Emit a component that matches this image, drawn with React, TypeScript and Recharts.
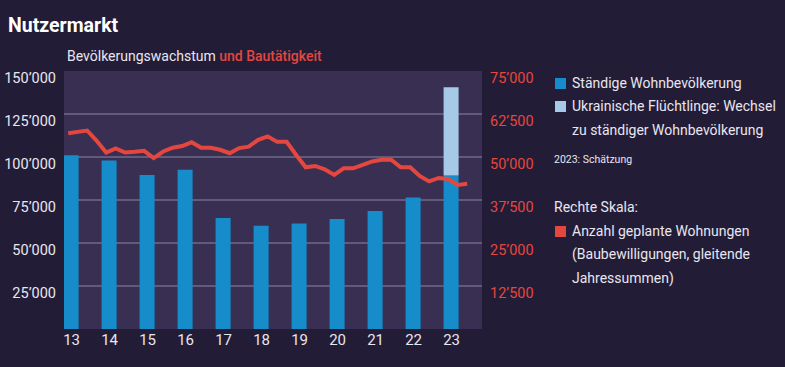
import React from 'react';
import {
  ComposedChart,
  Bar,
  Line,
  XAxis,
  YAxis,
  CartesianGrid,
} from 'recharts';

const years = [13, 14, 15, 16, 17, 18, 19, 20, 21, 22, 23];
const residents = [101000, 98000, 89500, 92600, 64500, 60100, 61400, 64000, 68600, 76400, 89200];
const ukrainians = [0, 0, 0, 0, 0, 0, 0, 0, 0, 0, 51300];

// planned dwellings, quarterly rolling annual sums (right scale)
const permits = [
  56900, 57300, 57700, 54700, 51300, 52500, 51300, 51500, 51800, 49700, 51600,
  52700, 53200, 54300, 52700, 52700, 52100, 51100, 52600, 53000, 55000, 56000,
  54400, 54400, 50600, 47000, 47400, 46400, 44800, 46700, 46700, 47700, 48700,
  49200, 49200, 47000, 47000, 44500, 42900, 43900, 43600, 41900, 42200,
];
const permitStart = 12.91;

const leftTicks = [0, 25000, 50000, 75000, 100000, 125000, 150000];
const rightTicks = [0, 12500, 25000, 37500, 50000, 62500, 75000];
const gridValues = [25000, 50000, 75000, 100000, 125000];

const BG = '#231c37';
const PLOT = '#382f53';
const BLUE = '#168ccb';
const LIGHT = '#a6c9e8';
const RED = '#e4473f';
const TEXT = '#e8e6ef';
const FONT = 'Roboto, sans-serif';

const barData = years.map((y, i) => ({ year: y, base: residents[i], ukr: ukrainians[i] || null }));
const lineData = permits.map((v, i) => ({ t: permitStart + i * 0.25, v }));

const fmt = (n: number) => String(n).replace(/\B(?=(\d{3})+(?!\d))/g, '\u2019');

const LeftTick = (props: any) => {
  const { x, y, payload } = props;
  if (payload.value === 0) return null;
  return (
    <text x={x} y={y + 7.5} textAnchor="end" dominantBaseline="central" fill={TEXT} fontSize={14.5} fontFamily={FONT}>
      {fmt(payload.value)}
    </text>
  );
};

const RightTick = (props: any) => {
  const { x, y, payload } = props;
  if (payload.value === 0) return null;
  return (
    <text x={x} y={y + 7.5} textAnchor="start" dominantBaseline="central" fill={RED} fontSize={14.5} fontFamily={FONT}>
      {fmt(payload.value)}
    </text>
  );
};

const YearTick = (props: any) => {
  const { x, y, payload } = props;
  return (
    <text x={x} y={y + 3} textAnchor="middle" dominantBaseline="central" fill={TEXT} fontSize={15} fontFamily={FONT}>
      {payload.value}
    </text>
  );
};

const Swatch = ({ color, top }: { color: string; top: number }) => (
  <div style={{ position: 'absolute', left: 555, top, width: 11, height: 11, background: color }} />
);

const line = (top: number, left: number, text: string, extra: React.CSSProperties = {}) => (
  <div style={{ position: 'absolute', left, top, fontSize: 14, lineHeight: '16px', color: TEXT, whiteSpace: 'nowrap', ...extra }}>
    {text}
  </div>
);

export default function App() {
  return (
    <div style={{ position: 'fixed', left: 0, top: 0, width: 785, height: 367, background: BG, fontFamily: FONT }}>
      <div style={{ position: 'absolute', left: 8, top: 14, fontSize: 19.5, lineHeight: '23px', fontWeight: 700, color: '#ffffff' }}>
        Nutzermarkt
      </div>
      <div style={{ position: 'absolute', left: 67, top: 48, fontSize: 14, color: TEXT, whiteSpace: 'nowrap' }}>
        Bevölkerungswachstum <span style={{ color: RED, fontWeight: 500 }}>und Bautätigkeit</span>
      </div>

      <ComposedChart
        width={785}
        height={367}
        data={barData}
        margin={{ top: 71, right: 243, bottom: 0, left: 0 }}
        style={{ position: 'absolute', left: 0, top: 0 }}
      >
        <CartesianGrid
          fill={PLOT}
          vertical={false}
          horizontalValues={gridValues}
          stroke="#8c87a3"
          yAxisId="left"
        />
        <XAxis
          dataKey="year"
          type="number"
          domain={[12.8, 23.8]}
          ticks={years}
          allowDataOverflow
          axisLine={false}
          tickLine={false}
          tick={<YearTick />}
          height={38}
          interval={0}
        />
        <XAxis xAxisId="q" dataKey="t" type="number" domain={[12.8, 23.8]} allowDataOverflow hide />
        <YAxis
          yAxisId="left"
          domain={[0, 150000]}
          ticks={leftTicks}
          axisLine={false}
          tickLine={false}
          tick={<LeftTick />}
          width={64}
          interval={0}
        />
        <YAxis
          yAxisId="right"
          orientation="right"
          domain={[0, 75000]}
          ticks={rightTicks}
          axisLine={false}
          tickLine={false}
          tick={<RightTick />}
          width={60}
          interval={0}
        />
        <Bar dataKey="base" stackId="pop" yAxisId="left" fill={BLUE} barSize={15} isAnimationActive={false} />
        <Bar dataKey="ukr" stackId="pop" yAxisId="left" fill={LIGHT} barSize={15} isAnimationActive={false} />
        <Line
          data={lineData}
          xAxisId="q"
          yAxisId="right"
          dataKey="v"
          stroke={RED}
          strokeWidth={4}
          dot={false}
          activeDot={false}
          isAnimationActive={false}
        />
      </ComposedChart>

      <Swatch color={BLUE} top={78} />
      {line(75, 572, 'Ständige Wohnbevölkerung')}
      <Swatch color={LIGHT} top={101} />
      {line(98, 572, 'Ukrainische Flüchtlinge: Wechsel')}
      {line(122, 572, 'zu ständiger Wohnbevölkerung')}
      {line(152, 554, '2023: Schätzung', { fontSize: 10.5 })}
      {line(199, 554, 'Rechte Skala:')}
      <Swatch color={RED} top={226} />
      {line(223, 572, 'Anzahl geplante Wohnungen')}
      {line(246, 572, '(Baubewilligungen, gleitende')}
      {line(270, 572, 'Jahressummen)')}
    </div>
  );
}
